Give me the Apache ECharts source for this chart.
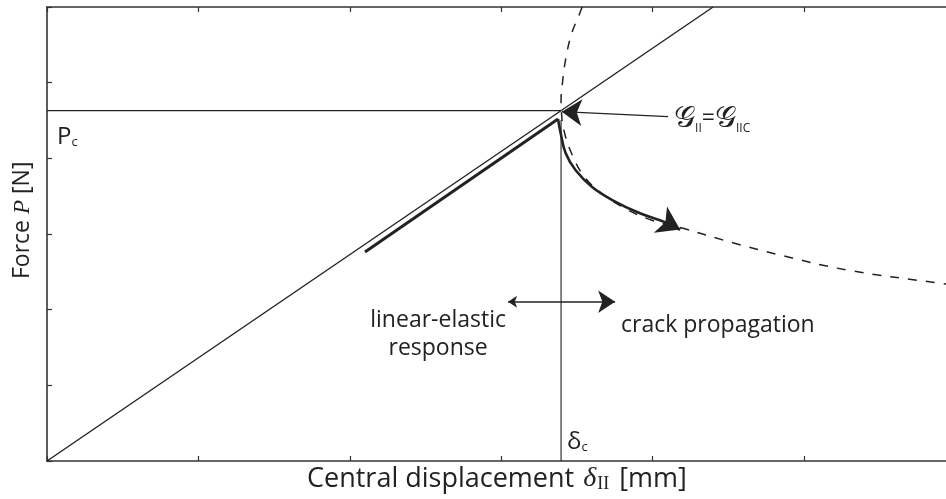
<!DOCTYPE html>
<html>
<head>
<meta charset="utf-8">
<script src="https://cdn.jsdelivr.net/npm/echarts@6/dist/echarts.min.js"></script>
<style>
  html, body { margin: 0; padding: 0; background: #fff; overflow: hidden; }
  #chart { width: 960px; height: 499px; }
</style>
</head>
<body>
<div id="chart"></div>
<script>
// Load–displacement sketch for a mode II fracture test (units are schematic).
const TEXT_FONT = '"Open Sans", "Noto Sans", sans-serif';
const MATH_FONT = '"Liberation Serif", "DejaVu Serif", serif';

// critical point (δc, Pc)
const critical = [3.395, 4.63];

// linear-elastic loading line through the critical point
const elasticLine = [[0, 0], [4.399, 6]];

// Pc level and δc level reference lines
const pcLine = [[0, 4.63], [3.395, 4.63]];
const dcLine = [[3.395, 4.506], [3.395, 0]];

// bold path: loading segment (offset), then unstable crack growth
const loadPath = [[2.100, 2.762], [3.375, 4.520]];
const growthPath = [
  [3.375, 4.520], [3.392, 4.335], [3.425, 4.070], [3.490, 3.845],
  [3.600, 3.621], [3.733, 3.449], [3.912, 3.277], [4.090, 3.150], [4.181, 3.058]
];

// analytical P–δ curve during crack propagation (snap-back branch above Pc)
const propagationCurve = [
  [3.534, 6.0], [3.514, 5.894], [3.466, 5.656], [3.428, 5.339], [3.404, 4.995],
  [3.395, 4.772], [3.397, 4.625], [3.418, 4.335], [3.475, 4.018], [3.550, 3.753],
  [3.660, 3.542], [3.812, 3.344], [3.990, 3.185], [4.201, 3.075], [4.511, 2.894],
  [4.841, 2.722], [5.284, 2.524], [5.885, 2.352], [5.938, 2.339]
];

// arrows: pointer to the critical point, regime divider
const pointerArrow = [[4.102, 4.550], [3.400, 4.616]];
const regimeArrow = [[3.045, 2.105], [3.752, 2.105]];

const INK = '#222';

const chart = echarts.init(document.getElementById('chart'), null, { renderer: 'canvas' });

const axisCommon = {
  type: 'value', min: 0, max: 6, interval: 1,
  axisLine: { show: true, onZero: false, lineStyle: { color: '#333', width: 1.6 } },
  axisTick: { show: true, inside: true, length: 5, lineStyle: { color: '#333', width: 1.2 } },
  axisLabel: { show: false },
  splitLine: { show: false }
};

const plainLine = (data, width, extra) => Object.assign({
  type: 'line', data: data, symbol: 'none', silent: true, animation: false,
  lineStyle: { color: INK, width: width }
}, extra || {});

const subStyle = (size) => ({
  fontSize: size, fontFamily: TEXT_FONT, color: INK, verticalAlign: 'bottom', lineHeight: size
});

const labelBase = { show: true, color: INK, opacity: 1, fontFamily: TEXT_FONT };

chart.setOption({
  animation: false,
  grid: { left: 47, top: 7, right: 4.5, bottom: 38, containLabel: false },
  xAxis: [
    Object.assign({}, axisCommon, { position: 'bottom' }),
    Object.assign({}, axisCommon, { position: 'top' })
  ],
  yAxis: [Object.assign({}, axisCommon, { position: 'left' })],
  series: [
    plainLine(elasticLine, 1.4),
    plainLine(pcLine, 1.1),
    plainLine(dcLine, 1.1),
    plainLine(propagationCurve, 1.5, {
      smooth: 0.4,
      lineStyle: { color: INK, width: 1.5, type: [9, 9] }
    }),
    plainLine(loadPath, 3),
    plainLine(growthPath, 2.6, { smooth: 0.4 }),
    {
      // arrowhead at the end of the crack-growth path
      type: 'lines', coordinateSystem: 'cartesian2d', silent: true,
      symbol: ['none', 'arrow'], symbolSize: [11, 22],
      lineStyle: { color: INK, width: 2.6, opacity: 1 },
      data: [{ coords: growthPath.slice(-2) }]
    },
    {
      type: 'lines', coordinateSystem: 'cartesian2d', silent: true,
      symbol: ['none', 'arrow'], symbolSize: [7, 20],
      lineStyle: { color: INK, width: 1.3, opacity: 1 },
      data: [{ coords: pointerArrow }]
    },
    {
      type: 'lines', coordinateSystem: 'cartesian2d', silent: true,
      symbol: ['arrow', 'arrow'], symbolSize: [9, 17],
      lineStyle: { color: INK, width: 1.5, opacity: 1 },
      data: [{ coords: regimeArrow }]
    },
    {
      // text annotations anchored in data space
      type: 'scatter', symbolSize: 0, silent: true,
      itemStyle: { opacity: 1, color: INK },
      label: labelBase,
      data: [
        {
          value: [0, critical[1]],
          label: Object.assign({}, labelBase, {
            position: [10, 14], align: 'left', verticalAlign: 'top',
            formatter: 'P{s|c}', fontSize: 24,
            rich: { s: subStyle(13) }
          })
        },
        {
          value: [critical[0], 0],
          label: Object.assign({}, labelBase, {
            position: [6, -31], align: 'left', verticalAlign: 'top',
            formatter: 'δ{s|c}', fontSize: 24,
            rich: { s: subStyle(13) }
          })
        },
        {
          value: pointerArrow[0],
          label: Object.assign({}, labelBase, {
            position: [6, 2], align: 'left', verticalAlign: 'middle',
            formatter: '{g|𝒢}{s|II}{e|=}{g|𝒢}{s|IIC}',
            rich: {
              g: { fontSize: 30, fontFamily: '"DejaVu Serif", "DejaVu Sans", serif', color: INK, lineHeight: 32 },
              e: { fontSize: 23, fontFamily: TEXT_FONT, color: INK, lineHeight: 32 },
              s: subStyle(12)
            }
          })
        },
        {
          value: [2.583, 1.678],
          label: Object.assign({}, labelBase, {
            position: 'inside', align: 'center', verticalAlign: 'middle',
            formatter: 'linear-elastic\nresponse', fontSize: 23, lineHeight: 28
          })
        },
        {
          value: [3.791, 1.797],
          label: Object.assign({}, labelBase, {
            position: [0, 0], align: 'left', verticalAlign: 'middle',
            formatter: 'crack propagation', fontSize: 23
          })
        }
      ]
    }
  ],
  graphic: [
    {
      type: 'text', left: 307, top: 465, silent: true,
      style: {
        text: 'Central displacement {m|δ}{s|II} [mm]',
        fill: INK, font: '27px ' + TEXT_FONT,
        rich: {
          m: { fontFamily: MATH_FONT, fontStyle: 'italic', fontSize: 28, fill: INK, padding: [0, 1, 0, 2] },
          s: { fontFamily: MATH_FONT, fontSize: 18, fill: INK, verticalAlign: 'bottom', lineHeight: 17, padding: [0, 3, 0, 0] }
        }
      }
    },
    {
      type: 'text', x: 11, y: 279, rotation: Math.PI / 2, silent: true,
      style: {
        text: 'Force {m|P} [N]',
        fill: INK, font: '23px ' + TEXT_FONT,
        rich: {
          m: { fontFamily: MATH_FONT, fontStyle: 'italic', fontSize: 23, fill: INK }
        }
      }
    }
  ]
});
</script>
</body>
</html>
